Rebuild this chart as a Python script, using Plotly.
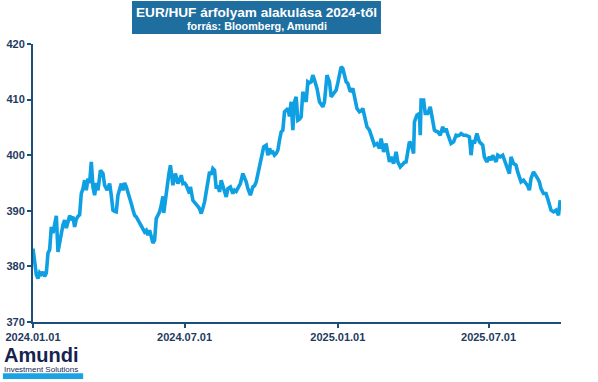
import plotly.graph_objects as go

dates = [
 "2024-01-01","2024-01-03","2024-01-05","2024-01-07","2024-01-09","2024-01-11","2024-01-13","2024-01-15","2024-01-17","2024-01-19",
 "2024-01-21","2024-01-23","2024-01-25","2024-01-27","2024-01-29","2024-01-31","2024-02-02","2024-02-04","2024-02-06","2024-02-08",
 "2024-02-10","2024-02-12","2024-02-14","2024-02-16","2024-02-18","2024-02-20","2024-02-22","2024-02-24","2024-02-26","2024-02-28",
 "2024-03-01","2024-03-03","2024-03-05","2024-03-07","2024-03-09","2024-03-11","2024-03-13","2024-03-15","2024-03-17","2024-03-19",
 "2024-03-22","2024-03-25","2024-03-27","2024-03-30","2024-04-02","2024-04-04","2024-04-06","2024-04-08","2024-04-10","2024-04-12",
 "2024-04-14","2024-04-16","2024-04-18","2024-04-20","2024-04-22","2024-04-24","2024-04-26","2024-04-28","2024-04-30","2024-05-02",
 "2024-05-04","2024-05-06","2024-05-08","2024-05-10","2024-05-12","2024-05-14","2024-05-16","2024-05-18","2024-05-20","2024-05-22",
 "2024-05-24","2024-05-26","2024-05-28","2024-05-30","2024-06-01","2024-06-03","2024-06-05","2024-06-06","2024-06-09","2024-06-12",
 "2024-06-14","2024-06-17","2024-06-20","2024-06-23","2024-06-25","2024-06-27","2024-06-29","2024-07-01","2024-07-03","2024-07-05",
 "2024-07-07","2024-07-08","2024-07-11","2024-07-13","2024-07-15","2024-07-17","2024-07-19","2024-07-21","2024-07-23","2024-07-25",
 "2024-07-27","2024-07-29","2024-07-31","2024-08-02","2024-08-04","2024-08-06","2024-08-08","2024-08-10","2024-08-12","2024-08-14",
 "2024-08-17","2024-08-20","2024-08-22","2024-08-25","2024-08-28","2024-08-30","2024-09-01","2024-09-03","2024-09-06","2024-09-09",
 "2024-09-11","2024-09-13","2024-09-15","2024-09-18","2024-09-21","2024-09-23","2024-09-25","2024-09-27","2024-09-29","2024-10-01",
 "2024-10-04","2024-10-07","2024-10-09","2024-10-11","2024-10-13","2024-10-15","2024-10-17","2024-10-19","2024-10-21","2024-10-23",
 "2024-10-25","2024-10-27","2024-10-29","2024-10-31","2024-11-02","2024-11-04","2024-11-06","2024-11-08","2024-11-10","2024-11-12",
 "2024-11-14","2024-11-16","2024-11-18","2024-11-20","2024-11-22","2024-11-24","2024-11-26","2024-11-28","2024-11-30","2024-12-02",
 "2024-12-04","2024-12-07","2024-12-10","2024-12-12","2024-12-14","2024-12-16","2024-12-19","2024-12-22","2024-12-24","2024-12-27",
 "2024-12-30","2025-01-01","2025-01-03","2025-01-05","2025-01-07","2025-01-09","2025-01-11","2025-01-13","2025-01-16","2025-01-19",
 "2025-01-21","2025-01-24","2025-01-27","2025-01-29","2025-01-31","2025-02-02","2025-02-05","2025-02-08","2025-02-10","2025-02-12",
 "2025-02-14","2025-02-17","2025-02-20","2025-02-22","2025-02-25","2025-02-28","2025-03-02","2025-03-04","2025-03-06","2025-03-09",
 "2025-03-12","2025-03-14","2025-03-17","2025-03-20","2025-03-22","2025-03-24","2025-03-26","2025-03-28","2025-03-30","2025-04-02",
 "2025-04-03","2025-04-06","2025-04-09","2025-04-10","2025-04-11","2025-04-14","2025-04-16","2025-04-19","2025-04-22","2025-04-25",
 "2025-04-27","2025-04-29","2025-05-01","2025-05-04","2025-05-07","2025-05-09","2025-05-11","2025-05-13","2025-05-15","2025-05-17",
 "2025-05-20","2025-05-23","2025-05-25","2025-05-27","2025-05-29","2025-06-01","2025-06-04","2025-06-06","2025-06-08","2025-06-10",
 "2025-06-12","2025-06-14","2025-06-17","2025-06-20","2025-06-22","2025-06-24","2025-06-26","2025-06-29","2025-07-02","2025-07-04",
 "2025-07-06","2025-07-08","2025-07-10","2025-07-12","2025-07-15","2025-07-18","2025-07-20","2025-07-22","2025-07-24","2025-07-26",
 "2025-07-28","2025-07-31","2025-08-03","2025-08-05","2025-08-07","2025-08-09","2025-08-12","2025-08-15","2025-08-17","2025-08-19",
 "2025-08-21","2025-08-24","2025-08-27","2025-08-29","2025-08-31","2025-09-02","2025-09-05","2025-09-08","2025-09-10","2025-09-12",
 "2025-09-14","2025-09-17","2025-09-20","2025-09-23","2025-09-25",
]

eurhuf = [
 383.2,380.5,378.5,377.8,378.9,378.6,379.0,378.2,378.8,382.4,
 383.0,387.1,386.0,387.5,389.1,382.6,384.5,386.2,387.5,388.3,
 386.9,388.0,389.1,388.6,388.9,387.1,388.5,389.0,389.3,393.1,
 394.0,395.5,393.7,395.8,395.0,398.8,394.3,392.8,395.0,393.7,
 397.3,396.7,394.6,393.7,394.9,392.8,390.1,389.9,389.8,392.8,
 394.0,394.9,393.7,395.0,394.3,393.1,392.5,391.3,390.2,389.2,
 388.9,388.3,387.8,387.1,386.8,386.2,386.5,385.6,386.5,385.3,
 384.2,384.7,388.6,389.2,389.8,391.0,392.6,389.6,393.7,396.5,
 398.2,394.6,396.7,394.9,395.5,396.4,394.9,395.0,394.6,393.8,
 393.1,394.3,391.9,391.5,391.0,390.8,390.4,389.5,390.5,391.6,
 393.4,395.5,397.0,396.5,397.6,397.3,394.0,394.5,393.4,395.5,
 393.7,392.5,394.0,394.3,393.1,393.7,393.5,394.0,394.9,396.7,
 396.0,395.2,394.0,392.8,394.3,394.5,395.2,396.7,398.0,399.4,
 401.5,401.8,400.0,401.2,400.5,400.6,400.0,400.3,400.9,402.7,
 404.2,404.5,407.8,408.1,408.4,407.0,409.6,404.5,409.6,410.5,
 406.3,406.5,406.9,411.4,410.5,409.6,413.2,413.0,413.2,414.4,
 413.5,412.0,409.6,409.0,408.7,409.6,414.4,413.2,410.5,411.1,
 411.7,413.0,414.4,415.9,415.6,414.5,413.2,412.9,411.4,412.0,
 410.8,408.4,407.8,408.0,408.4,406.9,405.1,404.5,403.5,402.4,
 401.8,402.1,401.2,403.0,400.6,402.1,400.5,398.8,399.7,398.5,
 400.6,398.8,397.9,398.5,398.7,398.8,400.6,402.4,402.1,400.3,
 406.0,407.2,407.5,403.6,409.9,409.9,407.5,407.5,408.7,406.0,
 404.5,404.3,404.2,403.6,405.1,404.2,404.8,403.8,403.0,402.1,
 402.4,403.6,403.5,403.6,403.9,403.6,403.6,403.5,403.3,400.0,
 402.7,402.1,403.9,402.4,402.0,401.8,399.7,398.8,399.7,399.1,
 400.0,399.5,398.8,400.0,399.7,400.0,399.0,398.2,397.5,396.7,
 399.7,398.5,398.2,397.0,395.8,395.2,395.5,394.9,394.5,393.7,
 395.8,397.0,396.4,395.8,395.2,394.0,393.1,393.1,392.2,391.3,
 390.1,389.8,390.1,389.2,391.9,
]

y_ticks = [370, 380, 390, 400, 410, 420]
x_ticks = ["2024-01-01", "2024-07-01", "2025-01-01", "2025-07-01"]
x_ticklabels = ["2024.01.01", "2024.07.01", "2025.01.01", "2025.07.01"]

title_text = "EUR/HUF árfolyam alakulása 2024-től"
subtitle_text = "forrás: Bloomberg, Amundi"

NAVY = "#1f3a5f"
AXIS = "#1f4e79"
LINE = "#0ea0e2"
BOX = "#1f6ea0"
FONT = "Liberation Sans, Arial, sans-serif"

fig = go.Figure()
fig.add_trace(go.Scatter(
    x=dates, y=eurhuf, mode="lines",
    line=dict(color=LINE, width=3.6),
    hoverinfo="x+y", showlegend=False,
))

fig.update_layout(
    width=598, height=382,
    margin=dict(l=33, r=37, t=44, b=60, autoexpand=False),
    paper_bgcolor="white", plot_bgcolor="white",
    font=dict(family=FONT, color=NAVY),
    xaxis=dict(
        type="date", range=["2024-01-01", "2025-09-26"],
        tickvals=x_ticks, ticktext=x_ticklabels,
        tickfont=dict(family=FONT, size=11, color=NAVY, weight="bold"),
        showline=True, linecolor=AXIS, linewidth=2,
        ticks="outside", ticklen=4, tickcolor=AXIS, tickwidth=1.5,
        showgrid=False, zeroline=False, automargin=False,
    ),
    yaxis=dict(
        range=[370, 420], tickvals=y_ticks,
        tickfont=dict(family=FONT, size=11, color=NAVY, weight="bold"),
        showline=True, linecolor=AXIS, linewidth=2,
        ticks="outside", ticklen=4, tickcolor=AXIS, tickwidth=1.5,
        showgrid=False, zeroline=False, automargin=False,
    ),
    shapes=[
        dict(type="rect", xref="paper", yref="paper",
             x0=0.1875, x1=0.659, y0=1.036, y1=1.1547,
             fillcolor=BOX, line=dict(width=0), layer="above"),
        dict(type="rect", xref="paper", yref="paper",
             x0=-0.057, x1=0.095, y0=-0.205, y1=-0.184,
             fillcolor="#19a3e2", line=dict(width=0)),
    ],
    annotations=[
        dict(text=title_text, xref="paper", yref="paper", x=0.4233, y=1.115,
             xanchor="center", yanchor="middle", showarrow=False,
             font=dict(family=FONT, size=13.6, color="white", weight="bold")),
        dict(text=subtitle_text, xref="paper", yref="paper", x=0.4233, y=1.064,
             xanchor="center", yanchor="middle", showarrow=False,
             font=dict(family=FONT, size=10.8, color="white", weight="bold")),
        dict(text="Amundi", xref="paper", yref="paper", x=-0.059, y=-0.117,
             xanchor="left", yanchor="middle", showarrow=False,
             font=dict(family=FONT, size=20, color="#17234f", weight="bold")),
        dict(text="Investment Solutions", xref="paper", yref="paper", x=-0.058, y=-0.170,
             xanchor="left", yanchor="middle", showarrow=False,
             font=dict(family=FONT, size=8, color="#17234f")),
    ],
)

fig.write_html(
    "out.html",
    config={"displayModeBar": False},
    post_script="document.body.style.margin='0px';document.body.style.padding='0px';",
)
